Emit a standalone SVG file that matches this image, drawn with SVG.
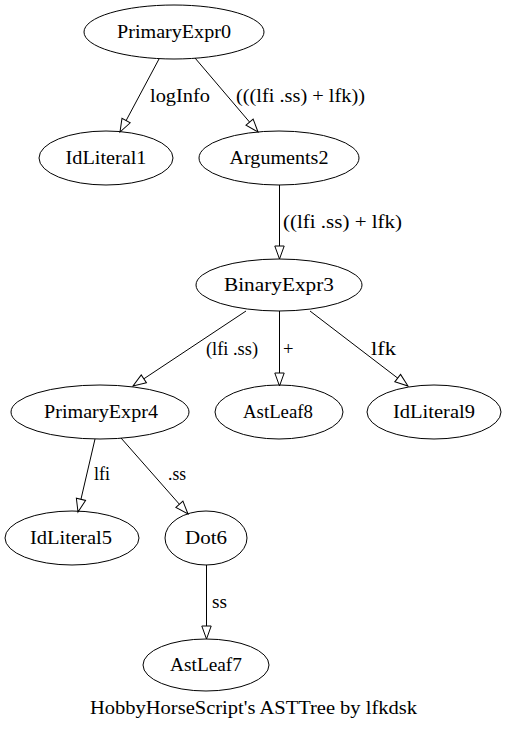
<svg xmlns="http://www.w3.org/2000/svg" width="508" height="730" viewBox="0 0 508 730" font-family="Liberation Serif, Times New Roman, serif" font-size="18.67">
<style>
.n ellipse{fill:none;stroke:#000;stroke-width:1}
.n text{text-anchor:middle}
.e line{stroke:#000;stroke-width:1;marker-end:url(#ah)}
</style>
<defs>
<marker id="ah" viewBox="0 0 13 9.4" refX="13" refY="4.7" markerWidth="13" markerHeight="9.4" markerUnits="userSpaceOnUse" orient="auto" overflow="visible">
<path d="M0,0 L13,4.7 L0,9.4 Z" fill="#fff" stroke="#000" stroke-width="1"/>
</marker>
</defs>
<rect width="508" height="730" fill="#fff"/>
<g id="edges" class="e">
<line x1="159" y1="59" x2="120" y2="132"/>
<line x1="195" y1="58" x2="258" y2="132"/>
<line x1="279.5" y1="185" x2="279.5" y2="259"/>
<line x1="246" y1="311" x2="133" y2="386"/>
<line x1="279.5" y1="311" x2="279.5" y2="386"/>
<line x1="310" y1="311" x2="408" y2="386"/>
<line x1="95" y1="439" x2="78" y2="512"/>
<line x1="121" y1="438" x2="188" y2="514"/>
<line x1="206.5" y1="565" x2="206.5" y2="639"/>
<text x="150" y="102" textLength="60" lengthAdjust="spacingAndGlyphs">logInfo</text>
<text x="236" y="102" textLength="129" lengthAdjust="spacingAndGlyphs">(((lfi .ss) + lfk))</text>
<text x="283" y="228" textLength="119" lengthAdjust="spacingAndGlyphs">((lfi .ss) + lfk)</text>
<text x="206" y="355" textLength="52" lengthAdjust="spacingAndGlyphs">(lfi .ss)</text>
<text x="283" y="355">+</text>
<text x="371" y="355" textLength="25" lengthAdjust="spacingAndGlyphs">lfk</text>
<text x="94" y="480" textLength="16" lengthAdjust="spacingAndGlyphs">lfi</text>
<text x="168" y="480" textLength="18" lengthAdjust="spacingAndGlyphs">.ss</text>
<text x="212" y="608" textLength="15" lengthAdjust="spacingAndGlyphs">ss</text>
</g>
<g id="PrimaryExpr0" class="n"><ellipse cx="174" cy="32" rx="90" ry="27"/><text x="174" y="38" textLength="114" lengthAdjust="spacingAndGlyphs">PrimaryExpr0</text></g>
<g id="IdLiteral1" class="n"><ellipse cx="106" cy="158" rx="67" ry="27"/><text x="106" y="164" textLength="81" lengthAdjust="spacingAndGlyphs">IdLiteral1</text></g>
<g id="Arguments2" class="n"><ellipse cx="279" cy="158" rx="80" ry="27"/><text x="279" y="164" textLength="99" lengthAdjust="spacingAndGlyphs">Arguments2</text></g>
<g id="BinaryExpr3" class="n"><ellipse cx="279" cy="285" rx="83" ry="26"/><text x="279" y="291" textLength="110" lengthAdjust="spacingAndGlyphs">BinaryExpr3</text></g>
<g id="PrimaryExpr4" class="n"><ellipse cx="100" cy="412" rx="89" ry="27"/><text x="101" y="418" textLength="114" lengthAdjust="spacingAndGlyphs">PrimaryExpr4</text></g>
<g id="AstLeaf8" class="n"><ellipse cx="279" cy="412" rx="64" ry="27"/><text x="278" y="418" textLength="70" lengthAdjust="spacingAndGlyphs">AstLeaf8</text></g>
<g id="IdLiteral9" class="n"><ellipse cx="434" cy="412" rx="67" ry="27"/><text x="434" y="418" textLength="82" lengthAdjust="spacingAndGlyphs">IdLiteral9</text></g>
<g id="IdLiteral5" class="n"><ellipse cx="72" cy="538" rx="67" ry="27"/><text x="71" y="544" textLength="82" lengthAdjust="spacingAndGlyphs">IdLiteral5</text></g>
<g id="Dot6" class="n"><ellipse cx="206" cy="538" rx="41" ry="27"/><text x="206" y="544" textLength="42" lengthAdjust="spacingAndGlyphs">Dot6</text></g>
<g id="AstLeaf7" class="n"><ellipse cx="206" cy="665" rx="63" ry="26"/><text x="206" y="671" textLength="72" lengthAdjust="spacingAndGlyphs">AstLeaf7</text></g>
<text x="253.5" y="714" text-anchor="middle" textLength="327" lengthAdjust="spacingAndGlyphs">HobbyHorseScript's ASTTree by lfkdsk</text>
</svg>
